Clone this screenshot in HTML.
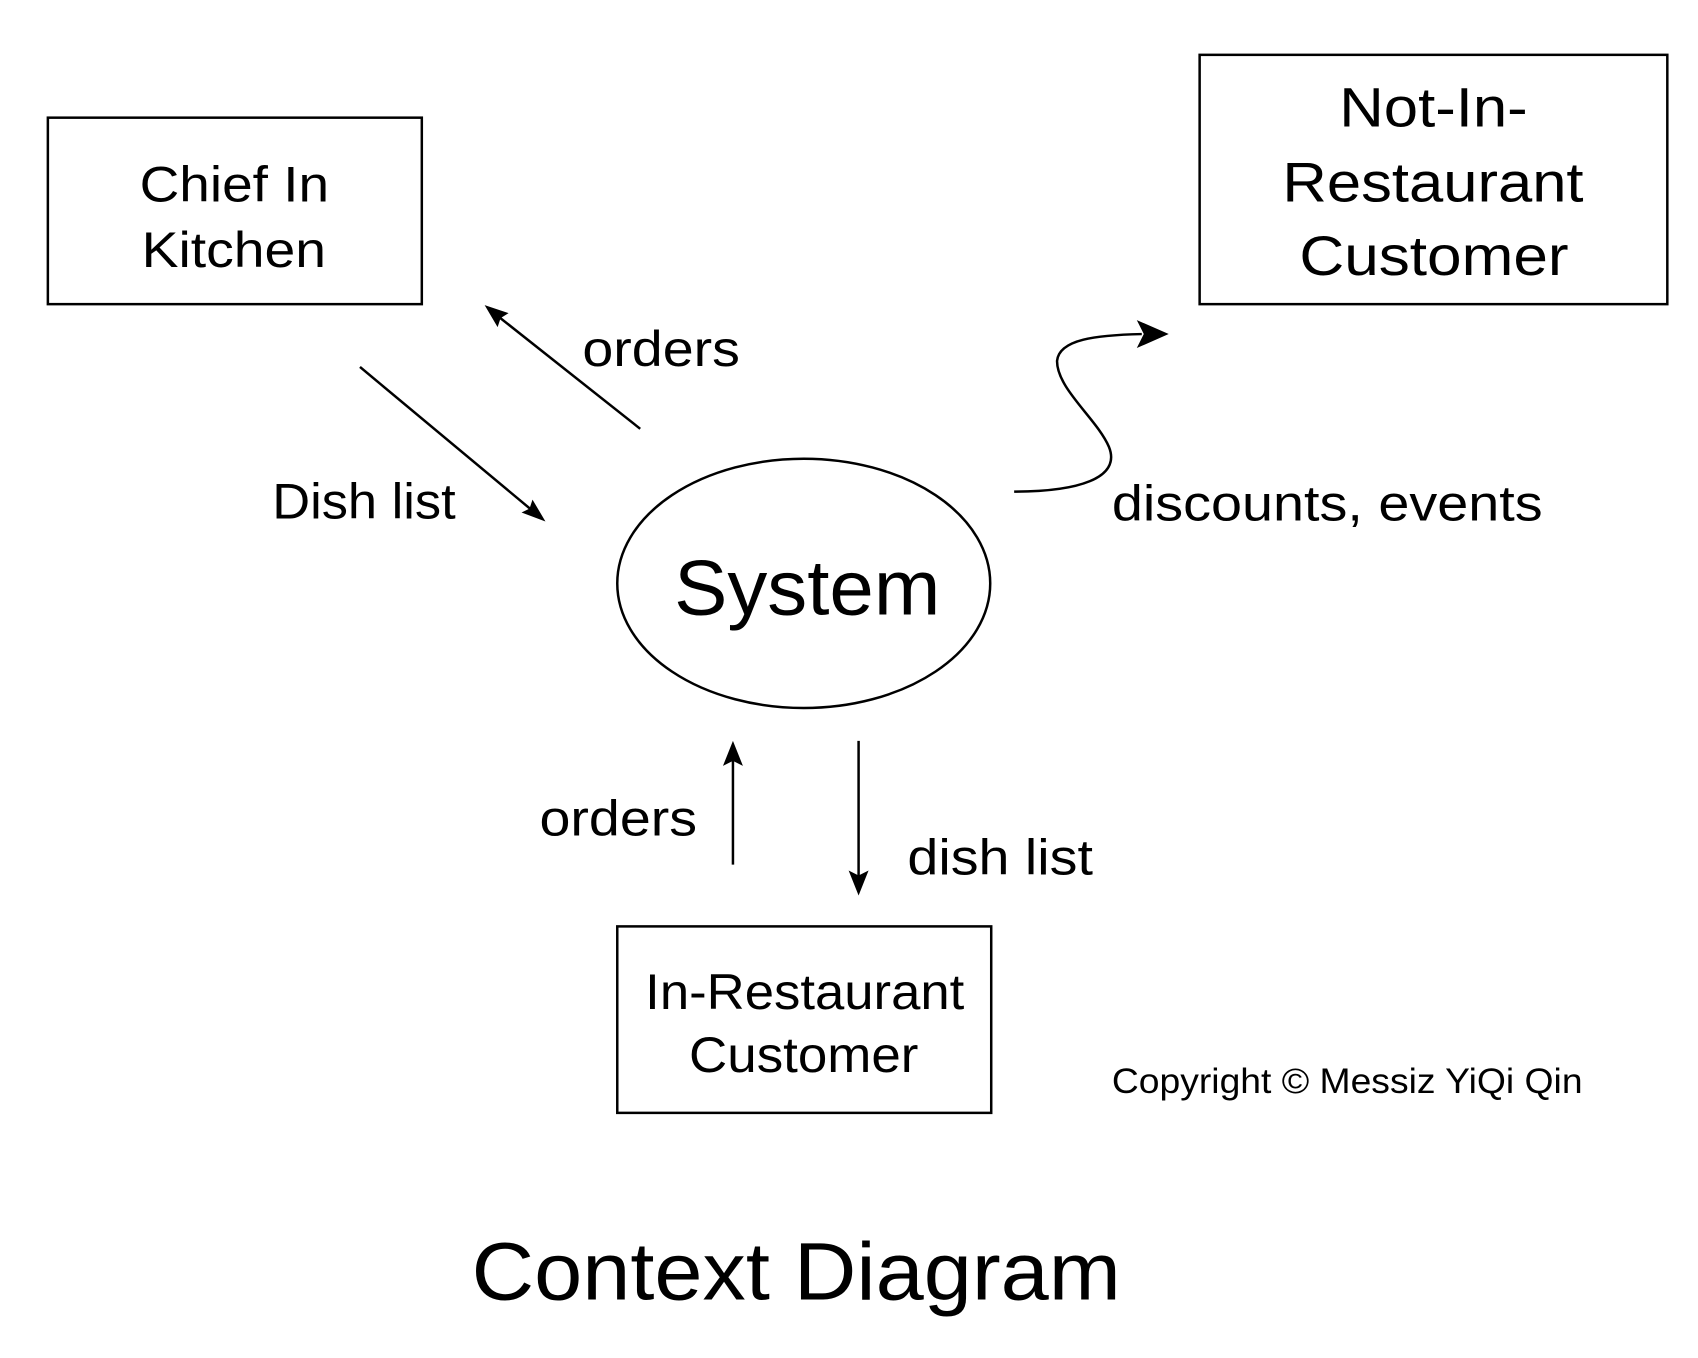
<!DOCTYPE html>
<html><head><meta charset="utf-8"><style>html,body{margin:0;padding:0;background:#fff}svg{display:block}text{font-family:"Liberation Sans",sans-serif;fill:#000}</style></head>
<body>
<svg width="1698" height="1358" viewBox="0 0 1698 1358" xmlns="http://www.w3.org/2000/svg">
<g transform="scale(0.9972)">
<g fill="none" stroke="#000" stroke-width="2.5">
<rect x="48" y="118" width="375" height="187"/>
<rect x="1203" y="55" width="469" height="250"/>
<rect x="619" y="929" width="375" height="187"/>
<ellipse cx="806" cy="585" rx="187" ry="125"/>
</g>
<g stroke="#000" stroke-width="2.5" fill="none">
<line x1="642" y1="430" x2="498" y2="316"/>
<line x1="361" y1="368" x2="535" y2="513"/>
<line x1="735" y1="867" x2="735" y2="757"/>
<line x1="861" y1="743" x2="861" y2="884"/>
<path d="M1017,493 C1080,493 1125,480 1112,448 C1100,420 1060,390 1060,362 C1062,340 1100,336 1145,335"/>
</g>
<g fill="#000">
<path d="M486,306 L510,314 L502,319 L499,328 Z"/>
<path d="M547,523 L523,514 L531,510 L534,501 Z"/>
<path d="M735,743 L745,768 L735,763 L725,768 Z"/>
<path d="M861,898 L851,873 L861,878 L871,873 Z"/>
<path d="M1172,335 L1140,321 L1147,335 L1140,349 Z"/>
</g>
<g font-size="50">
<text x="584" y="367" textLength="158" lengthAdjust="spacingAndGlyphs">orders</text>
<text x="273" y="520" textLength="184" lengthAdjust="spacingAndGlyphs">Dish list</text>
<text x="1115" y="522" textLength="432" lengthAdjust="spacingAndGlyphs">discounts, events</text>
<text x="541" y="838" textLength="158" lengthAdjust="spacingAndGlyphs">orders</text>
<text x="910" y="877" textLength="186" lengthAdjust="spacingAndGlyphs">dish list</text>
<text x="140" y="202" textLength="190" lengthAdjust="spacingAndGlyphs">Chief In</text>
<text x="142" y="268" textLength="185" lengthAdjust="spacingAndGlyphs">Kitchen</text>
<text x="647" y="1012" textLength="320" lengthAdjust="spacingAndGlyphs">In-Restaurant</text>
<text x="691" y="1075" textLength="230" lengthAdjust="spacingAndGlyphs">Customer</text>
</g>
<g font-size="56">
<text x="1343" y="127" textLength="189" lengthAdjust="spacingAndGlyphs">Not-In-</text>
<text x="1286" y="202" textLength="302" lengthAdjust="spacingAndGlyphs">Restaurant</text>
<text x="1303" y="276" textLength="270" lengthAdjust="spacingAndGlyphs">Customer</text>
</g>
<text x="676" y="616" font-size="78" textLength="267" lengthAdjust="spacingAndGlyphs">System</text>
<text x="1115" y="1096" font-size="35" textLength="472" lengthAdjust="spacingAndGlyphs">Copyright © Messiz YiQi Qin</text>
<text x="473" y="1303" font-size="82" textLength="651" lengthAdjust="spacingAndGlyphs">Context Diagram</text>
</g>
</svg>
</body></html>
